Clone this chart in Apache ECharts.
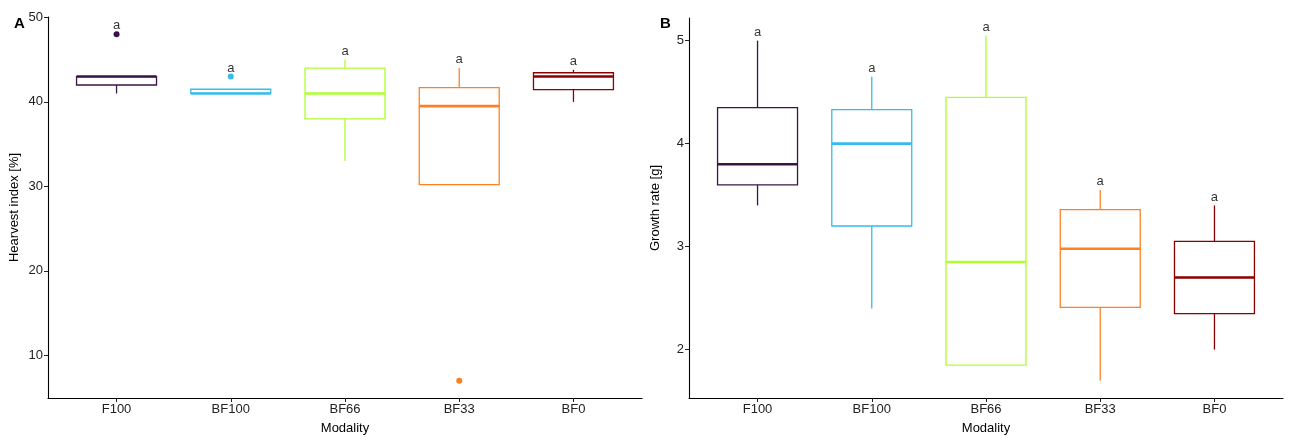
<!DOCTYPE html>
<html>
<head>
<meta charset="utf-8">
<script src="https://cdn.jsdelivr.net/npm/echarts@6/dist/echarts.min.js"></script>
<style>
  html, body { margin: 0; padding: 0; background: #fff; }
  #chart { width: 1297px; height: 437px; }
</style>
</head>
<body>
<div id="chart"></div>
<script>
const categories = ['F100', 'BF100', 'BF66', 'BF33', 'BF0']
const colors = ['#3b1446', '#36bceb', '#adff2f', '#ff8021', '#8b0000']

// [lower whisker, Q1, median, Q3, upper whisker]
const harvestBoxes = [
  [41, 42, 43, 43, 43],
  [41, 41, 41, 41.5, 41.5],
  [33, 38, 41, 44, 45],
  [30.2, 30.2, 39.5, 41.7, 44],
  [40, 41.45, 43, 43.45, 43.8]
]
// [category index, value]
const harvestOutliers = [[0, 48], [1, 43], [3, 7]]
const harvestTicks = [10, 20, 30, 40, 50]

const growthBoxes = [
  [3.4, 3.6, 3.8, 4.35, 5.0],
  [2.4, 3.2, 4.0, 4.33, 4.65],
  [1.85, 1.85, 2.85, 4.45, 5.05],
  [1.7, 2.41, 2.98, 3.36, 3.55],
  [2.0, 2.35, 2.7, 3.05, 3.4]
]
const growthOutliers = []
const growthTicks = [2, 3, 4, 5]

const font = 'Liberation Sans, Arial, Helvetica, sans-serif'
const chart = echarts.init(document.getElementById('chart'))

function boxData(boxes) {
  return boxes.map((b, i) => [i + 1].concat(b))
}

function topLabels(boxes, outliers) {
  return boxes.map((b, i) => {
    let top = b[4]
    outliers.forEach(o => { if (o[0] === i && o[1] > top) top = o[1] })
    return [i + 1, top]
  })
}

function renderBox(params, api) {
  const x = api.value(0)
  const lo = api.value(1)
  const q1 = api.value(2)
  const med = api.value(3)
  const q3 = api.value(4)
  const hi = api.value(5)
  const color = colors[params.dataIndex]
  const left = api.coord([x - 0.35, q3])
  const right = api.coord([x + 0.35, q1])
  const cx = api.coord([x, 0])[0]
  const yLo = api.coord([x, lo])[1]
  const yHi = api.coord([x, hi])[1]
  const yMed = api.coord([x, med])[1]
  const children = []
  if (hi > q3) {
    children.push({ type: 'line', shape: { x1: cx, y1: yHi, x2: cx, y2: left[1] }, style: { stroke: color, lineWidth: 1.3 } })
  }
  if (lo < q1) {
    children.push({ type: 'line', shape: { x1: cx, y1: right[1], x2: cx, y2: yLo }, style: { stroke: color, lineWidth: 1.3 } })
  }
  children.push({
    type: 'rect',
    shape: { x: left[0], y: left[1], width: right[0] - left[0], height: right[1] - left[1] },
    style: { fill: '#fff', stroke: color, lineWidth: 1.3 }
  })
  children.push({ type: 'line', shape: { x1: left[0], y1: yMed, x2: right[0], y2: yMed }, style: { stroke: color, lineWidth: 2.6 } })
  return { type: 'group', children: children }
}

function xAxisFor(gridIndex) {
  return {
    gridIndex: gridIndex,
    type: 'value',
    min: 0.4,
    max: 5.6,
    name: 'Modality',
    nameLocation: 'middle',
    nameGap: 24,
    nameTextStyle: { color: '#000', fontSize: 13, fontFamily: font },
    axisLine: { show: true, lineStyle: { color: '#000', width: 1.1 } },
    axisTick: { show: true, customValues: [1, 2, 3, 4, 5], length: 4, lineStyle: { color: '#222', width: 1 } },
    axisLabel: {
      customValues: [1, 2, 3, 4, 5],
      formatter: v => categories[Math.round(v) - 1] || '',
      color: '#222', fontSize: 13, fontFamily: font, margin: 5
    },
    splitLine: { show: false }
  }
}

function yAxisFor(gridIndex, name, min, max, ticks) {
  return {
    gridIndex: gridIndex,
    type: 'value',
    min: min,
    max: max,
    name: name,
    nameLocation: 'middle',
    nameGap: 27,
    nameTextStyle: { color: '#000', fontSize: 13, fontFamily: font },
    axisLine: { show: true, lineStyle: { color: '#000', width: 1.1 } },
    axisTick: { show: true, customValues: ticks, length: 4, lineStyle: { color: '#222', width: 1 } },
    axisLabel: { customValues: ticks, color: '#222', fontSize: 13, fontFamily: font, margin: 5 },
    splitLine: { show: false }
  }
}

function seriesFor(idx, boxes, outliers) {
  return [
    {
      type: 'custom',
      xAxisIndex: idx,
      yAxisIndex: idx,
      renderItem: renderBox,
      encode: { x: 0, y: [1, 2, 3, 4, 5] },
      data: boxData(boxes),
      silent: true
    },
    {
      type: 'scatter',
      xAxisIndex: idx,
      yAxisIndex: idx,
      symbolSize: 6,
      data: outliers.map(o => ({ value: [o[0] + 1, o[1]], itemStyle: { color: colors[o[0]], opacity: 1 } })),
      silent: true
    },
    {
      type: 'scatter',
      xAxisIndex: idx,
      yAxisIndex: idx,
      symbolSize: 0,
      data: topLabels(boxes, outliers),
      label: {
        show: true,
        position: 'top',
        distance: 2,
        formatter: 'a',
        color: '#000',
        fontSize: 13,
        fontFamily: font
      },
      silent: true
    }
  ]
}

chart.setOption({
  animation: false,
  title: [
    { text: 'A', left: 9, top: 11, textStyle: { fontSize: 15, fontWeight: 'bold', color: '#000', fontFamily: font } },
    { text: 'B', left: 655, top: 11, textStyle: { fontSize: 15, fontWeight: 'bold', color: '#000', fontFamily: font } }
  ],
  grid: [
    { left: 48, top: 17, width: 594, height: 381, outerBoundsMode: 'none' },
    { left: 689, top: 18, width: 594, height: 380, outerBoundsMode: 'none' }
  ],
  xAxis: [xAxisFor(0), xAxisFor(1)],
  yAxis: [
    yAxisFor(0, 'Hearvest index [%]', 4.95, 50.05, harvestTicks),
    yAxisFor(1, 'Growth rate [g]', 1.53, 5.22, growthTicks)
  ],
  series: seriesFor(0, harvestBoxes, harvestOutliers).concat(seriesFor(1, growthBoxes, growthOutliers))
})
</script>
</body>
</html>
